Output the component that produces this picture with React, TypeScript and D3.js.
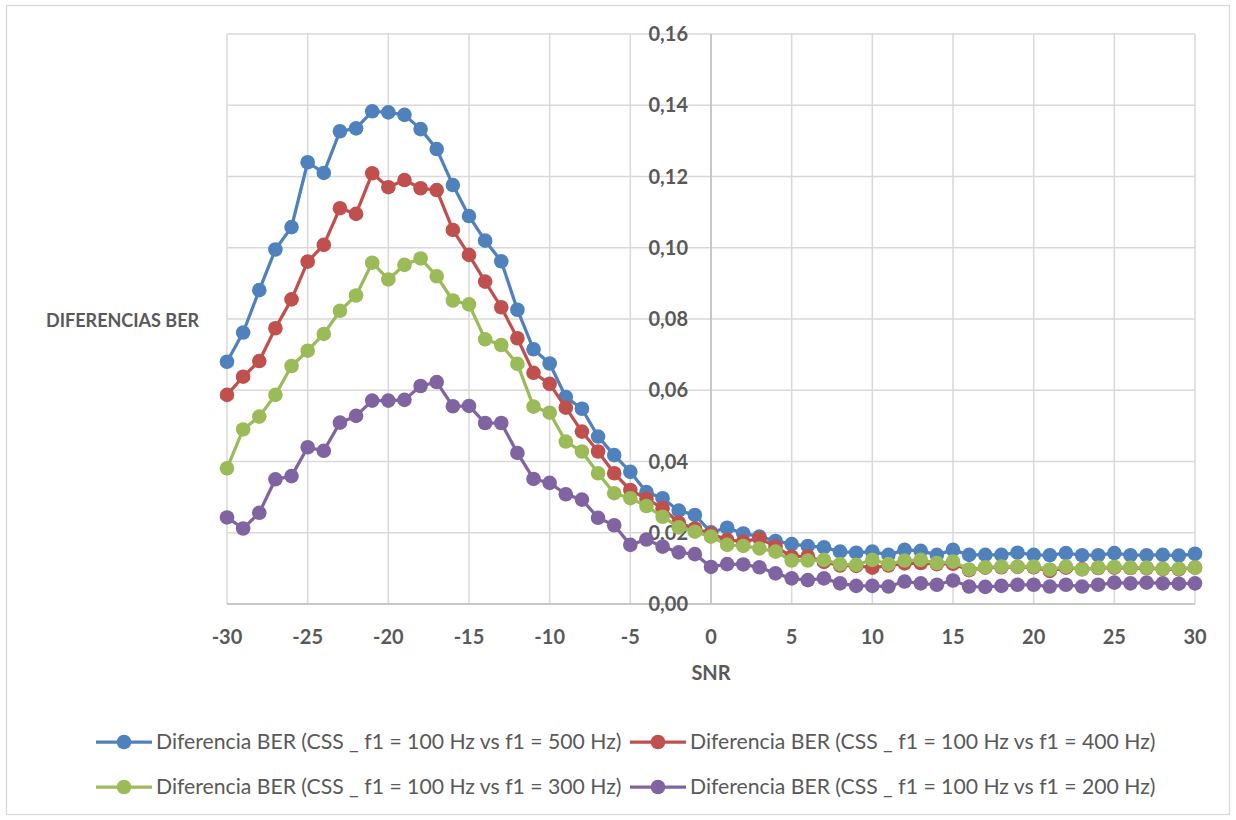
import React from "react";
import * as d3 from "d3";

const snr: number[] = d3.range(-30, 31);

const blue: number[] = [
  0.068, 0.0762, 0.0881, 0.0995, 0.1058, 0.124, 0.121, 0.1327, 0.1335, 0.1383,
  0.138, 0.1373, 0.1333, 0.1277, 0.1176, 0.1089, 0.102, 0.0962, 0.0826, 0.0715,
  0.0675, 0.0581, 0.0548, 0.047, 0.0418, 0.0371, 0.0314, 0.0297, 0.0262, 0.025,
  0.0201, 0.0214, 0.0198, 0.0189, 0.0177, 0.0168, 0.0163, 0.0159, 0.0147, 0.0144,
  0.0147, 0.0138, 0.0152, 0.0149, 0.0138, 0.0152, 0.0138, 0.0138, 0.0138, 0.0144,
  0.0138, 0.0137, 0.0143, 0.0137, 0.0137, 0.0143, 0.0137, 0.0137, 0.0138, 0.0136,
  0.0141,
];
const red: number[] = [
  0.0587, 0.0638, 0.0682, 0.0774, 0.0855, 0.0961, 0.1008, 0.1111, 0.1095, 0.1209,
  0.117, 0.119, 0.1167, 0.1162, 0.105, 0.098, 0.0905, 0.0833, 0.0746, 0.0649,
  0.0618, 0.0551, 0.0484, 0.0428, 0.0367, 0.032, 0.0295, 0.0269, 0.0228, 0.0212,
  0.0197, 0.018, 0.0175, 0.0184, 0.0161, 0.0133, 0.0134, 0.0118, 0.0108, 0.0107,
  0.0102, 0.0108, 0.0114, 0.0115, 0.0112, 0.0113, 0.0095, 0.0102, 0.0103, 0.0104,
  0.0103, 0.0093, 0.0102, 0.0098, 0.0101, 0.0102, 0.0101, 0.0101, 0.0098, 0.0097,
  0.0102,
];
const green: number[] = [
  0.0381, 0.049, 0.0526, 0.0587, 0.0668, 0.0711, 0.0758, 0.0823, 0.0866, 0.0958,
  0.0911, 0.0952, 0.097, 0.092, 0.0852, 0.0841, 0.0743, 0.0727, 0.0674, 0.0554,
  0.0537, 0.0456, 0.0428, 0.0367, 0.0311, 0.0297, 0.0275, 0.0245, 0.0215, 0.0203,
  0.0189, 0.0166, 0.0163, 0.0156, 0.0147, 0.0122, 0.0122, 0.0124, 0.0112, 0.011,
  0.0124, 0.0112, 0.0122, 0.0124, 0.0115, 0.0119, 0.0097, 0.0103, 0.0105, 0.0105,
  0.0105, 0.0097, 0.0105, 0.0097, 0.0102, 0.0104, 0.0102, 0.0102, 0.0099, 0.0099,
  0.0102,
];
const purple: number[] = [
  0.0243, 0.0212, 0.0256, 0.035, 0.0359, 0.044, 0.043, 0.0509, 0.0528, 0.0571,
  0.0571, 0.0573, 0.0612, 0.0623, 0.0555, 0.0556, 0.0508, 0.0508, 0.0424, 0.0351,
  0.034, 0.0308, 0.0293, 0.0242, 0.0221, 0.0166, 0.0181, 0.0161, 0.0145, 0.014,
  0.0104, 0.0112, 0.0111, 0.0103, 0.0086, 0.0072, 0.0067, 0.0072, 0.0058, 0.0051,
  0.0051, 0.0049, 0.0063, 0.0058, 0.0054, 0.0066, 0.0049, 0.0048, 0.0051, 0.0054,
  0.0054, 0.0049, 0.0054, 0.0049, 0.0054, 0.006, 0.0058, 0.006, 0.0058, 0.0057,
  0.0058,
];

const seriesNames: string[] = [
  "Diferencia BER (CSS _ f1 = 100 Hz vs f1 = 500 Hz)",
  "Diferencia BER (CSS _ f1 = 100 Hz vs f1 = 400 Hz)",
  "Diferencia BER (CSS _ f1 = 100 Hz vs f1 = 300 Hz)",
  "Diferencia BER (CSS _ f1 = 100 Hz vs f1 = 200 Hz)",
];
const seriesColors: string[] = ["#4F81BD", "#C0504D", "#9BBB59", "#8064A2"];
const xTicks: number[] = [-30, -25, -20, -15, -10, -5, 0, 5, 10, 15, 20, 25, 30];
const yTicks: number[] = [0, 0.02, 0.04, 0.06, 0.08, 0.1, 0.12, 0.14, 0.16];
const xTitle = "SNR";
const yTitle = "DIFERENCIAS BER";

const W = 1236;
const H = 820;
const plot = { left: 227, right: 1195, top: 34, bottom: 604 };
const FONT = "Lato, 'Open Sans', sans-serif";
const TEXT = "#595959";

export default function App() {
  const x = d3.scaleLinear().domain([-30, 30]).range([plot.left, plot.right]);
  const y = d3.scaleLinear().domain([0, 0.16]).range([plot.bottom, plot.top]);
  const allSeries = [blue, red, green, purple];
  const line = d3
    .line<number>()
    .x((_, i) => x(snr[i]))
    .y((d) => y(d));
  const fmt = (v: number) => v.toFixed(2).replace(".", ",");
  const gridX = d3.range(-30, 31, 5);

  const legendPos = [
    { x: 96, y: 742 },
    { x: 630, y: 742 },
    { x: 96, y: 787 },
    { x: 630, y: 787 },
  ];

  return (
    <svg
      width={W}
      height={H}
      style={{ position: "absolute", left: 0, top: 0, background: "#fff" }}
      fontFamily={FONT}
    >
      <rect x={0} y={0} width={W} height={H} fill="#fff" />
      <rect x={6.5} y={5.5} width={1223} height={809} fill="none" stroke="#d9d9d9" strokeWidth={1.3} />
      {yTicks.map((t) => (
        <line key={"gy" + t} x1={plot.left} x2={plot.right} y1={y(t)} y2={y(t)} stroke="#d9d9d9" strokeWidth={1.5} />
      ))}
      {gridX.map((t) => (
        <line key={"gx" + t} x1={x(t)} x2={x(t)} y1={plot.top} y2={plot.bottom} stroke="#d9d9d9" strokeWidth={1.5} />
      ))}
      <line x1={x(0)} x2={x(0)} y1={plot.top} y2={plot.bottom} stroke="#bfbfbf" strokeWidth={1.5} />
      <line x1={plot.left} x2={plot.right} y1={plot.bottom} y2={plot.bottom} stroke="#bfbfbf" strokeWidth={1.5} />
      {yTicks.map((t) => (
        <text key={"ly" + t} x={x(0) - 23} y={y(t)} dy="0.35em" textAnchor="end" fontSize={20} fontWeight="bold" fill={TEXT}>
          {fmt(t)}
        </text>
      ))}
      {xTicks.map((t) => (
        <text key={"lx" + t} x={x(t)} y={plot.bottom + 33} dy="0.35em" textAnchor="middle" fontSize={20} fontWeight="bold" fill={TEXT}>
          {t}
        </text>
      ))}
      <text x={x(0)} y={673} dy="0.35em" textAnchor="middle" fontSize={20} fontWeight="bold" fill={TEXT}>
        {xTitle}
      </text>
      <text x={46} y={321} dy="0.35em" textAnchor="start" fontSize={18} fontWeight="bold" fill={TEXT}>
        {yTitle}
      </text>
      {allSeries.map((s, si) => (
        <g key={"s" + si}>
          <path d={line(s) || ""} fill="none" stroke={seriesColors[si]} strokeWidth={3.25} strokeLinejoin="round" />
          {s.map((v, i) => (
            <circle key={i} cx={x(snr[i])} cy={y(v)} r={7.3} fill={seriesColors[si]} />
          ))}
        </g>
      ))}
      {seriesNames.map((n, i) => (
        <g key={"lg" + i} transform={`translate(${legendPos[i].x},${legendPos[i].y})`}>
          <line x1={0} x2={56} y1={0} y2={0} stroke={seriesColors[i]} strokeWidth={3.25} />
          <circle cx={28} cy={0} r={7.3} fill={seriesColors[i]} />
          <text x={60} y={0} dy="0.35em" fontSize={21.2} fill={TEXT}>
            {n}
          </text>
        </g>
      ))}
    </svg>
  );
}
